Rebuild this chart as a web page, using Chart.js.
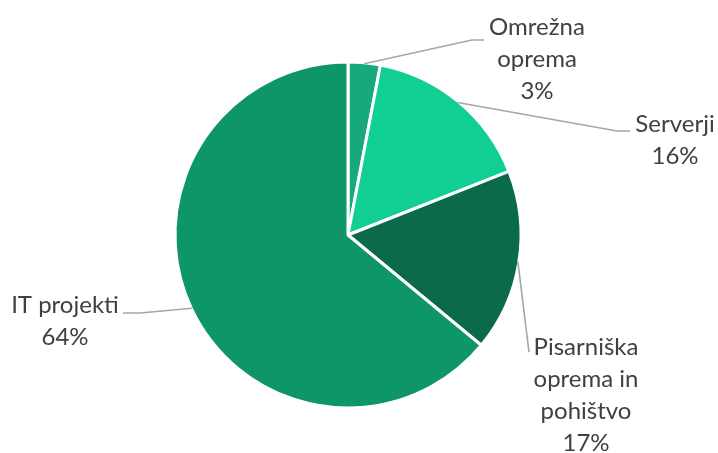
<!DOCTYPE html>
<html>
<head>
<meta charset="utf-8">
<script src="https://cdn.jsdelivr.net/npm/chart.js@4"></script>
<style>
  html, body { margin: 0; padding: 0; background: #fff; }
  #pie { display: block; }
</style>
</head>
<body>
<canvas id="pie" width="718" height="453"></canvas>
<script>
// categories, wrapped the way the labels are broken in the picture
const categories = [
  ['Omrežna', 'oprema'],
  ['Serverji'],
  ['Pisarniška', 'oprema in', 'pohištvo'],
  ['IT projekti']
]
const shares = [3, 16, 17, 64]
const sliceColors = ['#17a97d', '#11cf94', '#0a6a4a', '#0e966a']

// where each label sits, relative to the pie centre (text x, first baseline, leader elbow, leader end)
const labelLayout = [
  { x: 189, y: -200, elbow: [124, -195], end: [136, -195] },
  { x: 327, y: -103, elbow: [269, -104], end: [282, -104] },
  { x: 238, y: 120, elbow: null, end: [181, 117] },
  { x: -283, y: 78, elbow: [-208, 78], end: [-225, 78] }
]

const outsideLabels = {
  id: 'outsideLabels',
  afterDatasetsDraw(chart) {
    const ctx = chart.ctx
    const arcs = chart.getDatasetMeta(0).data
    const total = shares.reduce((a, b) => a + b, 0)
    ctx.save()
    arcs.forEach((arc, i) => {
      const { x: cx, y: cy, startAngle, endAngle, outerRadius } = arc.getProps(['x', 'y', 'startAngle', 'endAngle', 'outerRadius'])
      const mid = (startAngle + endAngle) / 2
      const r = outerRadius - 1
      const lay = labelLayout[i]

      // leader line
      ctx.strokeStyle = '#a6a6a6'
      ctx.lineWidth = 1.6
      ctx.beginPath()
      ctx.moveTo(cx + Math.cos(mid) * r, cy + Math.sin(mid) * r)
      if (lay.elbow) ctx.lineTo(cx + lay.elbow[0], cy + lay.elbow[1])
      ctx.lineTo(cx + lay.end[0], cy + lay.end[1])
      ctx.stroke()

      // label text
      const lines = categories[i].concat([Math.round(shares[i] / total * 100) + '%'])
      ctx.fillStyle = '#404040'
      ctx.font = '24px Lato'
      ctx.textAlign = 'center'
      ctx.textBaseline = 'alphabetic'
      lines.forEach((t, k) => {
        ctx.fillText(t, cx + lay.x, cy + lay.y + k * 32)
      })
    })
    ctx.restore()
  }
}

new Chart(document.getElementById('pie'), {
  type: 'pie',
  data: {
    labels: categories.map(c => c.join(' ')),
    datasets: [{
      data: shares,
      backgroundColor: sliceColors,
      borderColor: '#ffffff',
      borderWidth: 3
    }]
  },
  options: {
    responsive: false,
    animation: false,
    radius: 173,
    layout: { padding: { left: 0, right: 22, top: 17, bottom: 0 } },
    plugins: {
      legend: { display: false },
      tooltip: { enabled: false }
    }
  },
  plugins: [outsideLabels]
})
</script>
</body>
</html>
